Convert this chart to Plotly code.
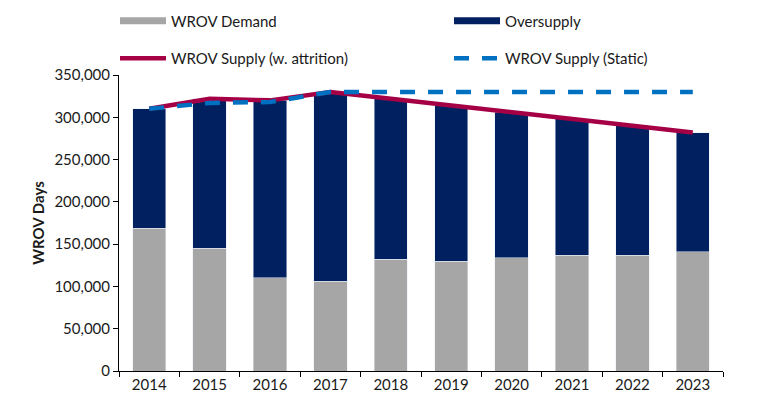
import plotly.graph_objects as go

years = ["2014", "2015", "2016", "2017", "2018", "2019", "2020", "2021", "2022", "2023"]
demand = [169000, 145000, 110000, 106000, 132000, 130000, 134000, 137000, 137000, 141000]
supply_attrition = [310000, 322000, 320000, 330000, 322000, 314000, 306000, 298000, 290000, 282000]
supply_static = [310000, 317000, 318000, 330000, 330000, 330000, 330000, 330000, 330000, 330000]
oversupply = [s - d for s, d in zip(supply_attrition, demand)]

GRAY = "#A6A6A6"
NAVY = "#002060"
RED = "#A50046"
BLUE = "#0070C0"
FONT = "Lato"
TXT = "#1a1a1a"

fig = go.Figure()
fig.add_trace(go.Bar(x=years, y=demand, name="WROV Demand", marker_color=GRAY,
                     showlegend=False, legendgroup="d"))
fig.add_trace(go.Bar(x=years, y=oversupply, name="Oversupply", marker_color=NAVY,
                     showlegend=False, legendgroup="o"))
fig.add_trace(go.Scatter(x=years, y=supply_attrition, mode="lines", name="WROV Supply (w. attrition)",
                         line=dict(color=RED, width=4.5), legend="legend3"))
fig.add_trace(go.Scatter(x=years, y=supply_static, mode="lines", name="WROV Supply (Static)",
                         line=dict(color=BLUE, width=4.5, dash="15px,13px"), legend="legend4"))
# legend-only entries for bars (wide swatches)
fig.add_trace(go.Scatter(x=[None], y=[None], mode="lines", name="WROV Demand",
                         line=dict(color=GRAY, width=7), legend="legend", legendgroup="d"))
fig.add_trace(go.Scatter(x=[None], y=[None], mode="lines", name="Oversupply",
                         line=dict(color=NAVY, width=7), legend="legend2", legendgroup="o"))

L, R, T, B = 119, 48, 75, 44
W, H = 771, 415
pw = W - L - R
ph = H - T - B

def px_x(px):
    return (px - L) / pw

def px_y(py):
    return (H - B - py) / ph

leg_common = dict(font=dict(family=FONT, size=15, color=TXT), itemwidth=46,
                  bgcolor="rgba(0,0,0,0)", xanchor="left", yanchor="middle",
                  orientation="v")

fig.update_layout(
    width=W, height=H,
    margin=dict(l=L, r=R, t=T, b=B, autoexpand=False),
    paper_bgcolor="white", plot_bgcolor="white",
    barmode="stack", bargap=0.45,
    font=dict(family=FONT, size=15, color=TXT),
    legend=dict(x=px_x(115), y=px_y(21), **leg_common),
    legend2=dict(x=px_x(449), y=px_y(21), **leg_common),
    legend3=dict(x=px_x(115), y=px_y(58.5), **leg_common),
    legend4=dict(x=px_x(449), y=px_y(58.5), **leg_common),
    xaxis=dict(type="category", showline=True, linecolor="black", linewidth=1,
               ticks="outside", ticklen=5, tickcolor="black", tickson="boundaries",
               showgrid=False, tickfont=dict(family=FONT, size=15, color=TXT)),
    yaxis=dict(range=[0, 350000], dtick=50000, tickformat=",", showline=True,
               linecolor="black", linewidth=1, ticks="outside", ticklen=5,
               tickcolor="black", showgrid=False, zeroline=False,
               tickfont=dict(family=FONT, size=15, color=TXT),
               title=dict(text="<b>WROV Days</b>", standoff=6,
                          font=dict(family=FONT, size=15, color=TXT))),
)

fig.write_html("out.html")
